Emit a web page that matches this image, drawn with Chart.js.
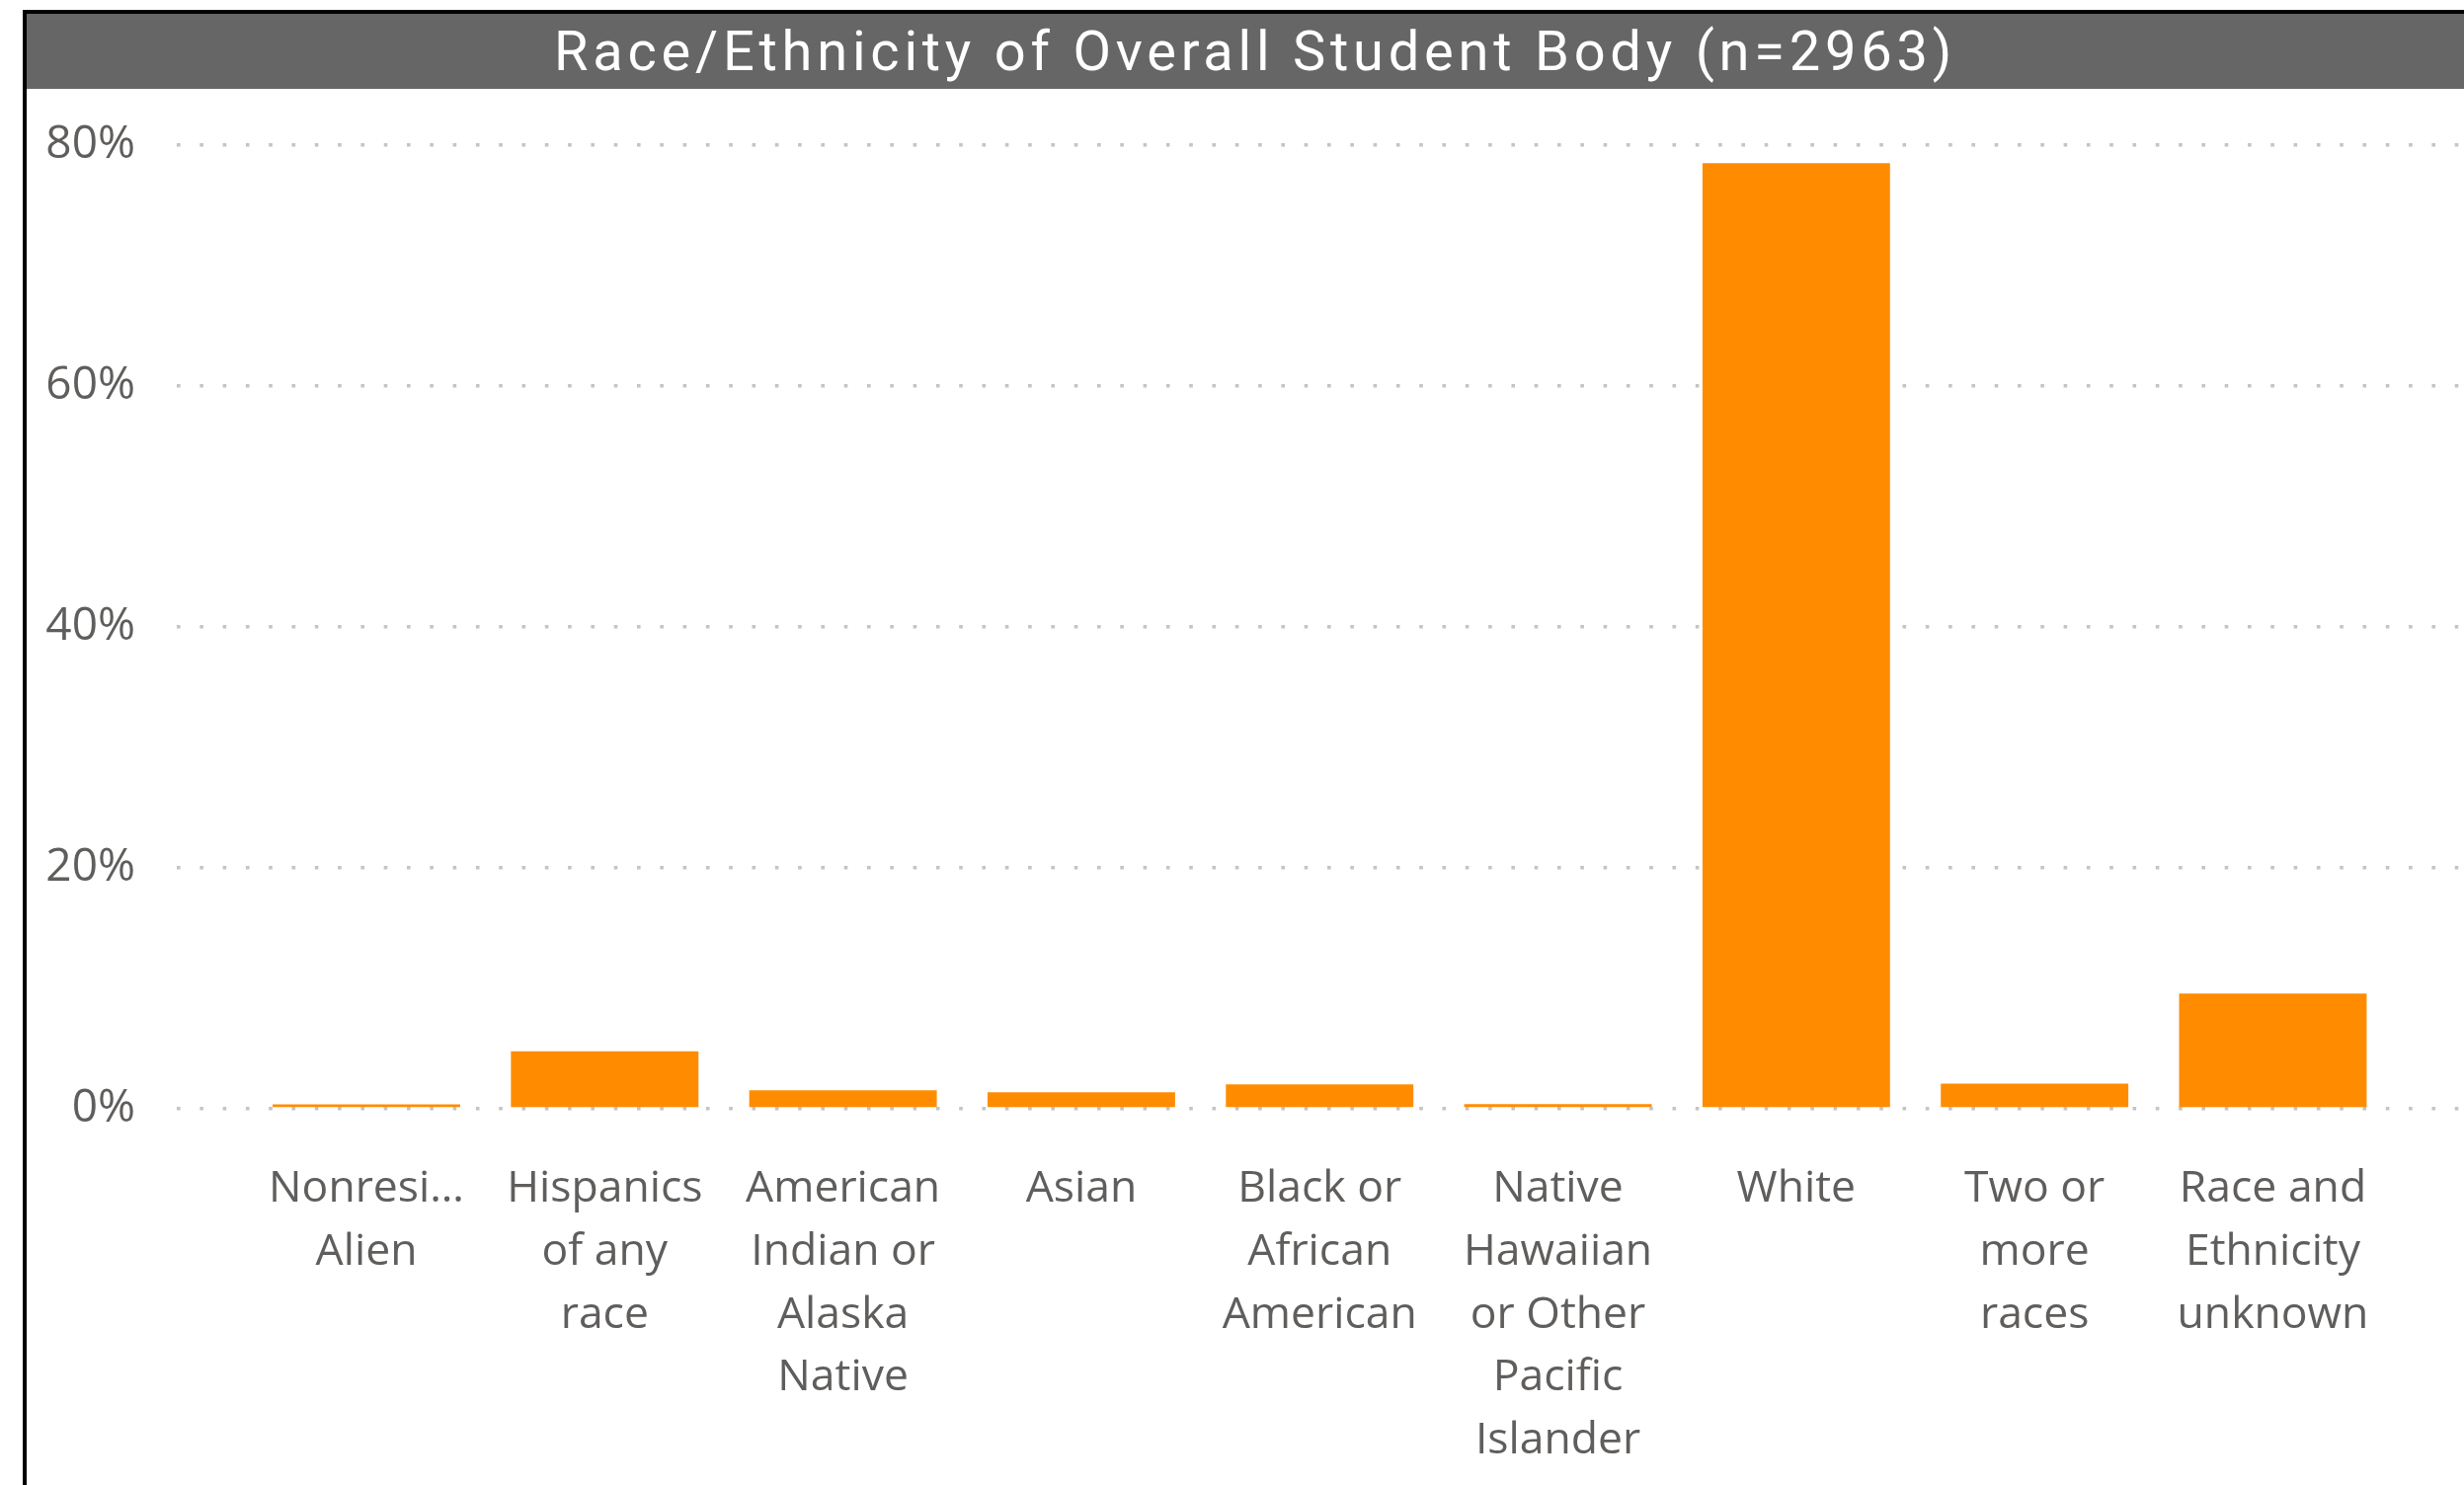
<!DOCTYPE html>
<html lang="en">
<head>
    <meta charset="UTF-8">
    <title>Race/Ethnicity of Overall Student Body</title>
    <script src="https://cdn.jsdelivr.net/npm/chart.js"></script>
    <style>
        html, body { margin: 0; padding: 0; background: #fff; overflow: hidden; }
        body { width: 2495px; height: 1504px; position: relative; }
        #frame {
            position: absolute; left: 23px; top: 10px; width: 2500px; height: 1500px;
            border-top: 4px solid #000; border-left: 4px solid #000;
        }
        #title {
            position: absolute; left: 27px; top: 14px; width: 2488px; height: 76px;
            background: #666666; color: #fff; text-align: center;
            font-family: Roboto, sans-serif; font-size: 56px; line-height: 76px;
            white-space: nowrap;
        }
        #chart { position: absolute; left: 27px; top: 90px; }
    </style>
</head>
<body>
    <div id="frame"></div>
    <div id="title">Race/Ethnicity of Overall Student Body (n=2963)</div>
    <canvas id="chart" width="2468" height="1414"></canvas>

    <script>
        // data
        const categories = [
            'Nonresident Alien', 'Hispanics of any race', 'American Indian or Alaska Native',
            'Asian', 'Black or African American', 'Native Hawaiian or Other Pacific Islander',
            'White', 'Two or more races', 'Race and Ethnicity unknown'
        ];
        const xTickLabels = [
            ['Nonresi\u2026', 'Alien'],
            ['Hispanics', 'of any', 'race'],
            ['American', 'Indian or', 'Alaska', 'Native'],
            ['Asian'],
            ['Black or', 'African', 'American'],
            ['Native', 'Hawaiian', 'or Other', 'Pacific', 'Islander'],
            ['White'],
            ['Two or', 'more', 'races'],
            ['Race and', 'Ethnicity', 'unknown']
        ];
        const percentValues = [0.37, 4.78, 1.53, 1.37, 2.03, 0.38, 78.5, 2.1, 9.57];
        const yTicks = [0, 20, 40, 60, 80];

        // stretch the title to the width it has in the reference
        const title = document.getElementById('title');
        const ctx = document.createElement('canvas').getContext('2d');
        ctx.font = '56px Roboto';
        const textW = ctx.measureText(title.textContent).width;
        title.style.letterSpacing = ((1420 - textW) / title.textContent.length) + 'px';

        const labelColor = '#605E5C';

        new Chart(document.getElementById('chart'), {
            type: 'bar',
            data: {
                datasets: [{
                    label: 'Share of students',
                    data: percentValues.map((v, i) => ({ x: i, y: v })),
                    backgroundColor: '#FF8C00',
                    borderWidth: 0,
                    barPercentage: 0.787,
                    categoryPercentage: 1
                }]
            },
            options: {
                responsive: false,
                animation: false,
                devicePixelRatio: 1,
                layout: { padding: { top: 57, right: 0, bottom: 0, left: 0 } },
                plugins: { legend: { display: false }, tooltip: { enabled: false } },
                scales: {
                    x: {
                        type: 'linear',
                        offset: false,
                        min: -0.7957,
                        max: 8.802,
                        grid: { display: false },
                        border: { display: false },
                        afterBuildTicks: axis => { axis.ticks = categories.map((c, i) => ({ value: i })); },
                        afterFit: scale => { scale.height = 381; },
                        ticks: {
                            autoSkip: false,
                            maxRotation: 0,
                            padding: 42,
                            color: labelColor,
                            font: { family: "'Open Sans', sans-serif", size: 44.5, lineHeight: 1.43 },
                            callback: v => xTickLabels[v]
                        }
                    },
                    y: {
                        min: 0,
                        max: 80,
                        afterBuildTicks: axis => { axis.ticks = yTicks.map(v => ({ value: v })); },
                        afterFit: scale => {
                            scale.width = 152;
                            // the big label gap should not push the plot area down
                            scale.paddingTop = 0;
                            scale.paddingBottom = 0;
                        },
                        border: { display: false, dash: [3.6, 19.7] },
                        grid: {
                            color: '#C4C4C4',
                            lineWidth: 3.6,
                            drawTicks: false
                        },
                        ticks: {
                            padding: 42,
                            color: labelColor,
                            font: { family: "'Open Sans', sans-serif", size: 46 },
                            callback: v => v + '%'
                        }
                    }
                }
            }
        });
    </script>
</body>
</html>
